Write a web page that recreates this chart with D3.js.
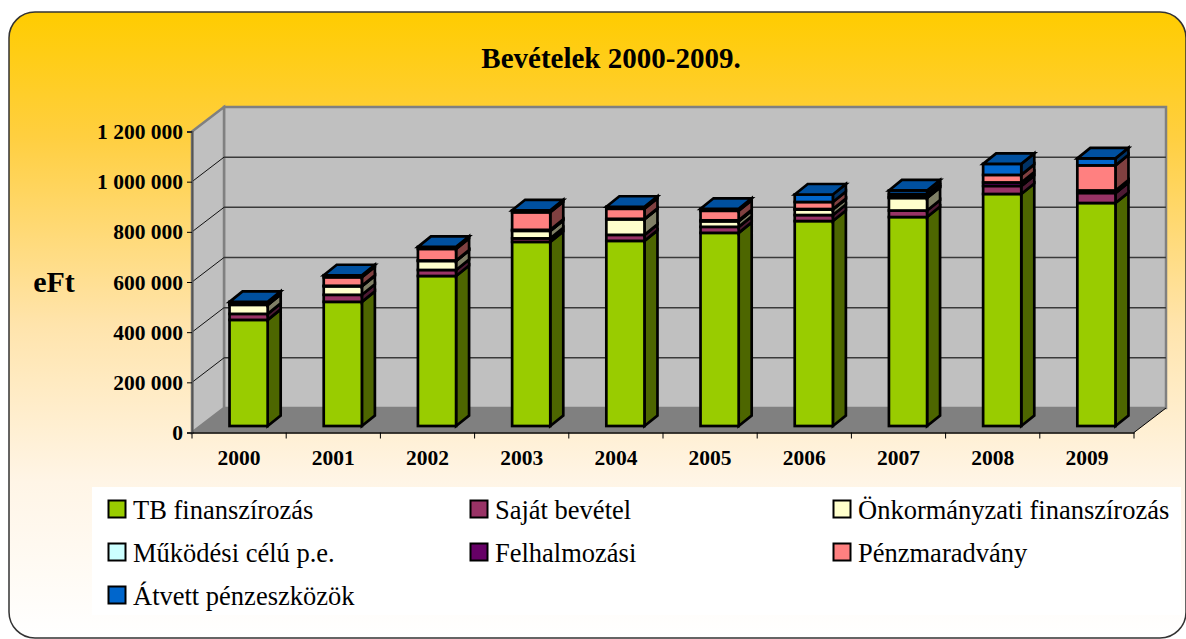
<!DOCTYPE html>
<html>
<head>
<meta charset="utf-8">
<script src="https://cdn.jsdelivr.net/npm/d3@7"></script>
<style>
    html, body { margin: 0; padding: 0; background: #fff; overflow: hidden; }
    text { font-family: "Liberation Serif", serif; fill: #000; }
    .tick text { font-weight: bold; }
</style>
</head>
<body>
<div id="chart"></div>
<script>
const years = ['2000', '2001', '2002', '2003', '2004', '2005', '2006', '2007', '2008', '2009'];
const yTicks = [0, 200000, 400000, 600000, 800000, 1000000, 1200000];

const seriesNames = ['TB finanszírozás', 'Saját bevétel', 'Önkormányzati finanszírozás',
    'Működési célú p.e.', 'Felhalmozási', 'Pénzmaradvány', 'Átvett pénzeszközök'];
const tbFinanszirozas = [423000, 495000, 598000, 734000, 738000, 770000, 817000, 833000, 925000, 889000];
const sajatBevetel = [24000, 28000, 24000, 14000, 24000, 24000, 24000, 26000, 32000, 40000];
const onkormanyzati = [36000, 34000, 36000, 30000, 62000, 22000, 22000, 50000, 0, 0];
const mukodesi = [0, 0, 0, 0, 0, 0, 0, 2000, 0, 0];
const felhalmozasi = [2000, 2000, 2000, 4000, 2000, 4000, 2000, 6000, 14000, 10000];
const penzmaradvany = [2000, 34000, 46000, 70000, 40000, 38000, 28000, 8000, 30000, 100000];
const atvett = [8000, 8000, 8000, 8000, 8000, 8000, 30000, 14000, 44000, 28000];
const seriesValues = [tbFinanszirozas, sajatBevetel, onkormanyzati, mukodesi, felhalmozasi, penzmaradvany, atvett];

const seriesColors = ['#99cc00', '#993366', '#ffffcc', '#ccffff', '#660066', '#ff8080', '#0066cc'];

const width = 1186, height = 639;

const svg = d3.select('#chart').append('svg')
    .attr('width', width)
    .attr('height', height)
    .style('display', 'block');

// Panel gradient
const defs = svg.append('defs');
const panelGradient = defs.append('linearGradient')
    .attr('id', 'panel-gradient')
    .attr('x1', '0%').attr('y1', '0%')
    .attr('x2', '0%').attr('y2', '100%');
panelGradient.selectAll('stop')
    .data([
        {offset: '0%', color: '#ffcc00'},
        {offset: '20%', color: '#ffcf40'},
        {offset: '50%', color: '#ffe4ac'},
        {offset: '75%', color: '#fff5e6'},
        {offset: '100%', color: '#ffffff'}
    ])
    .enter().append('stop')
    .attr('offset', d => d.offset)
    .attr('stop-color', d => d.color);

svg.append('rect')
    .attr('x', 9)
    .attr('y', 12)
    .attr('width', 1177)
    .attr('height', 626)
    .attr('rx', 26)
    .attr('ry', 26)
    .attr('fill', 'url(#panel-gradient)')
    .attr('stroke', '#333')
    .attr('stroke-width', 1.5);

// Scales: the front edge of the floor is what the axes show
const xScale = d3.scaleBand().domain(years).range([192, 1134]);
const yScale = d3.scaleLinear().domain([0, 1200000]).range([432.5, 131.5]);

// Offsets of the 3D box
const wallDx = 32, wallDy = -24.5;
const barDx = 13, barDy = -10.5;
const frontDx = 9.5, frontDy = -6.5;
const barWidth = xScale.bandwidth() * 0.405;

const [xLeft, xRight] = xScale.range();
const yBottom = yScale(0), yTop = yScale(1200000);

const poly = pts => pts.map(p => p.join(',')).join(' ');

// Walls
const walls = svg.append('g').attr('class', 'walls');
walls.append('polygon')
    .attr('points', poly([[xLeft + wallDx, yTop + wallDy], [xRight + wallDx, yTop + wallDy],
        [xRight + wallDx, yBottom + wallDy], [xLeft + wallDx, yBottom + wallDy]]))
    .attr('fill', '#c0c0c0')
    .attr('stroke', '#808080')
    .attr('stroke-width', 2.5);
walls.append('polygon')
    .attr('points', poly([[xLeft, yTop], [xLeft + wallDx, yTop + wallDy],
        [xLeft + wallDx, yBottom + wallDy], [xLeft, yBottom]]))
    .attr('fill', '#c0c0c0')
    .attr('stroke', '#808080')
    .attr('stroke-width', 2.5);

// Gridlines
const gridTicks = yTicks.slice(1, -1);
walls.selectAll('.grid-back')
    .data(gridTicks)
    .enter().append('line')
    .attr('class', 'grid-back')
    .attr('x1', xLeft + wallDx)
    .attr('x2', xRight + wallDx)
    .attr('y1', d => yScale(d) + wallDy)
    .attr('y2', d => yScale(d) + wallDy)
    .attr('stroke', '#3a3a3a')
    .attr('stroke-width', 1.5);
walls.selectAll('.grid-side')
    .data(gridTicks)
    .enter().append('line')
    .attr('class', 'grid-side')
    .attr('x1', xLeft)
    .attr('x2', xLeft + wallDx)
    .attr('y1', d => yScale(d))
    .attr('y2', d => yScale(d) + wallDy)
    .attr('stroke', '#111')
    .attr('stroke-width', 1);

// Floor
walls.append('polygon')
    .attr('points', poly([[xLeft, yBottom], [xLeft + wallDx, yBottom + wallDy],
        [xRight + wallDx, yBottom + wallDy], [xRight, yBottom]]))
    .attr('fill', '#808080');
walls.append('line')
    .attr('x1', xRight).attr('y1', yBottom)
    .attr('x2', xRight + wallDx).attr('y2', yBottom + wallDy)
    .attr('stroke', '#000')
    .attr('stroke-width', 1);

// Stacked bars
const rows = years.map((year, i) => {
    const row = {year};
    seriesNames.forEach((name, s) => { row[name] = seriesValues[s][i]; });
    return row;
});
const stacked = d3.stack().keys(seriesNames)(rows);

const sideColor = color => {
    const c = d3.rgb(color);
    return d3.rgb(c.r * 0.5, c.g * 0.5, c.b * 0.5).formatHex();
};
const topColor = color => {
    const c = d3.rgb(color);
    return d3.rgb(c.r * 0.78, c.g * 0.78, c.b * 0.78).formatHex();
};

const bars = svg.append('g')
    .attr('class', 'bars')
    .attr('stroke', '#000')
    .attr('stroke-width', 2.7)
    .attr('stroke-linejoin', 'miter');

years.forEach((year, i) => {
    const x0 = xScale(year) + (xScale.bandwidth() - barWidth) / 2 + frontDx;
    const x1 = x0 + barWidth;
    const bar = bars.append('g').attr('class', 'bar');
    stacked.forEach((layer, s) => {
        const yLow = yScale(layer[i][0]) + frontDy;
        const yHigh = yScale(layer[i][1]) + frontDy;
        const color = seriesColors[s];
        bar.append('polygon')
            .attr('points', poly([[x1, yLow], [x1 + barDx, yLow + barDy], [x1 + barDx, yHigh + barDy], [x1, yHigh]]))
            .attr('fill', sideColor(color));
        bar.append('rect')
            .attr('x', x0)
            .attr('y', yHigh)
            .attr('width', barWidth)
            .attr('height', yLow - yHigh)
            .attr('fill', color);
        if (s === stacked.length - 1) {
            bar.append('polygon')
                .attr('points', poly([[x0, yHigh], [x0 + barDx, yHigh + barDy], [x1 + barDx, yHigh + barDy], [x1, yHigh]]))
                .attr('fill', topColor(color));
        }
    });
});

// Axes
const yAxis = d3.axisLeft(yScale)
    .tickValues(yTicks)
    .tickSize(5)
    .tickPadding(4)
    .tickFormat(d => d3.format(',')(d).replace(/,/g, ' '));
const yAxisG = svg.append('g')
    .attr('class', 'y-axis')
    .attr('transform', `translate(${xLeft},0)`)
    .call(yAxis);
yAxisG.select('.domain').attr('stroke', '#555').attr('stroke-width', 2);
yAxisG.selectAll('.tick text').style('font-size', '21.5px').attr('dy', '0.33em');

const xAxis = d3.axisBottom(xScale)
    .tickSize(0)
    .tickPadding(17);
const xAxisG = svg.append('g')
    .attr('class', 'x-axis')
    .attr('transform', `translate(0,${yBottom})`)
    .call(xAxis);
xAxisG.select('.domain').attr('stroke', '#000').attr('stroke-width', 1.5);
xAxisG.selectAll('.tick text').style('font-size', '21.5px');
xAxisG.selectAll('.tick-mark')
    .data(years.concat(['end']))
    .enter().append('line')
    .attr('class', 'tick-mark')
    .attr('x1', d => d === 'end' ? xRight : xScale(d))
    .attr('x2', d => d === 'end' ? xRight : xScale(d))
    .attr('y1', 0)
    .attr('y2', 6)
    .attr('stroke', '#000');

// Title and axis label
svg.append('text')
    .attr('x', 611)
    .attr('y', 68)
    .attr('text-anchor', 'middle')
    .style('font-size', '29px')
    .style('font-weight', 'bold')
    .text('Bevételek 2000-2009.');

svg.append('text')
    .attr('x', 54)
    .attr('y', 292)
    .attr('text-anchor', 'middle')
    .style('font-size', '30px')
    .style('font-weight', 'bold')
    .text('eFt');

// Legend
const legendColumns = [108, 470, 833];
const legendRows = [519, 562, 605];

svg.append('rect')
    .attr('x', 92)
    .attr('y', 487)
    .attr('width', 1089)
    .attr('height', 128)
    .attr('fill', '#fff');

const legend = svg.selectAll('.legend-item')
    .data(seriesNames)
    .enter().append('g')
    .attr('class', 'legend-item')
    .attr('transform', (d, i) => `translate(${legendColumns[i % 3]},${legendRows[Math.floor(i / 3)]})`);

legend.append('rect')
    .attr('x', 0.5)
    .attr('y', -18.5)
    .attr('width', 17)
    .attr('height', 17)
    .attr('fill', (d, i) => seriesColors[i])
    .attr('stroke', '#000')
    .attr('stroke-width', 2);

legend.append('text')
    .attr('x', 25)
    .attr('y', 0)
    .style('font-size', '26.5px')
    .text(d => d);
</script>
</body>
</html>
